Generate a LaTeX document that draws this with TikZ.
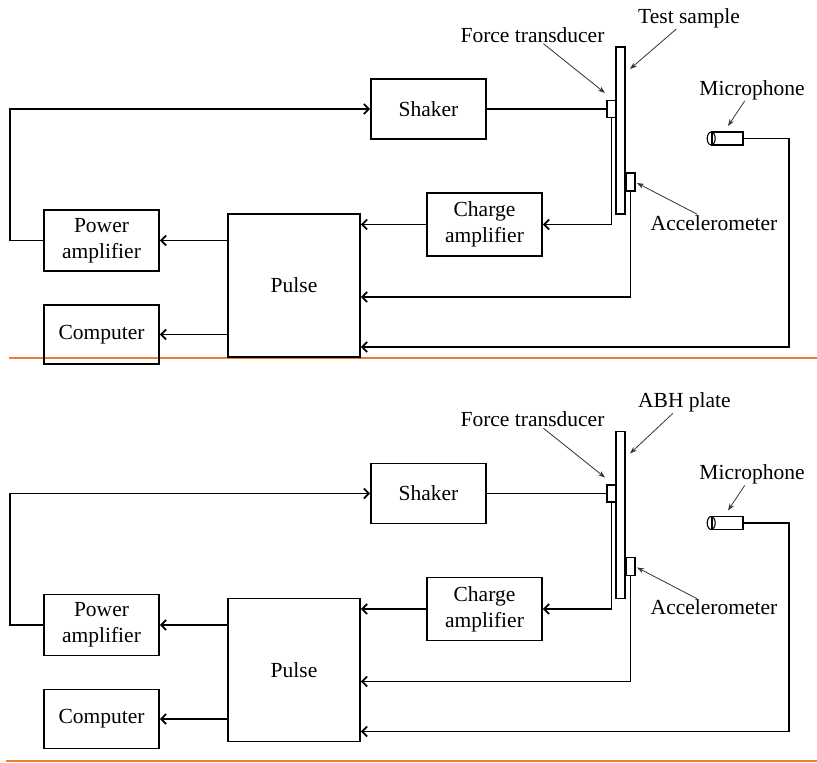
\documentclass[tikz,border=0pt]{standalone}
\usepackage{fontspec}
\setmainfont{Liberation Serif}
\usetikzlibrary{arrows.meta}
\definecolor{rulecolor}{RGB}{237,125,49}

\begin{document}
\begin{tikzpicture}[x=1pt,y=-1pt,
    box/.style={draw,line width=1.8pt,inner sep=0pt,align=center,font=\fontsize{21.5}{26}\selectfont},
    part/.style={draw,line width=1.6pt,inner sep=0pt},
    wire/.style={line width=1.8pt,-{Straight Barb[length=5pt,width=10pt]}},
    lbl/.style={font=\fontsize{21.5}{26}\selectfont,inner sep=1pt},
    pointer/.style={line width=0.8pt,black!80,-{Stealth[length=7pt,width=5pt]}}]
  \useasboundingbox (0,0) rectangle (817,763);
  \draw[rulecolor,line width=2.4pt] (9,358) -- (817,358);
  \draw[rulecolor,line width=2.6pt] (6,761) -- (817,761);
  \foreach \yo/\sampletext in {0/Test sample,384.5/ABH plate}
    {
    \begin{scope}[shift={(0,\yo)}]
      \node[box,minimum width=115pt,minimum height=60pt] (shaker) at (428.5,109) {Shaker};
      \node[part,minimum width=9pt,minimum height=167pt] (plate) at (620.5,130.5) {};
      \node[part,minimum width=9pt,minimum height=17pt] (force) at (611.5,109) {};
      \node[part,minimum width=9pt,minimum height=18pt] (accel) at (630.5,182) {};
      \node[part,minimum width=31pt,minimum height=13pt] (mic) at (727.5,138.5) {};
      \draw[line width=1.1pt] (mic.west) ellipse (4 and 6.5);
      \node[box,minimum width=115pt,minimum height=63pt] (charge) at (484.5,224.5) {Charge\\amplifier};
      \node[box,minimum width=132pt,minimum height=143pt] (pulse) at (294,285.5) {Pulse};
      \node[box,minimum width=115pt,minimum height=61pt] (power) at (101.5,240.5) {Power\\amplifier};
      \node[box,minimum width=115pt,minimum height=59pt] (computer) at (101.5,334.5) {Computer};

      \node[lbl,anchor=west] (sampleLbl) at (637,18) {\sampletext};
      \node[lbl] (forceLbl) at (532.5,35) {Force transducer};
      \node[lbl] (micLbl) at (752,90) {Microphone};
      \node[lbl] (accelLbl) at (714,223) {Accelerometer};
      \coordinate (sampleTip) at (630,69);
      \coordinate (forceTip) at (605,93);
      \coordinate (micTip) at (728,126);
      \coordinate (accelTip) at (637,183);
      \draw[pointer] (sampleLbl) -- (sampleTip);
      \draw[pointer] (forceLbl) -- (forceTip);
      \draw[pointer] (micLbl) -- (micTip);
      \draw[pointer] (accelLbl) -- (accelTip);

      \draw[wire] (power.west) -- ++(-33,0) |- (shaker.west);
      \draw[line width=1.8pt] (shaker.east) -- (shaker.east -| force.west);
      \draw[wire] (force.south) |- (charge.east);
      \draw[wire] (charge.west) -- (pulse.east |- charge.west);
      \draw[wire] (accel.south) |- (pulse.east |- 0,297);
      \draw[wire] (mic.east) -- ++(45,0) |- (pulse.east |- 0,347);
      \draw[wire] (pulse.west |- power.east) -- (power.east);
      \draw[wire] (pulse.west |- computer.east) -- (computer.east);
    \end{scope}
    }
\end{tikzpicture}
\end{document}
